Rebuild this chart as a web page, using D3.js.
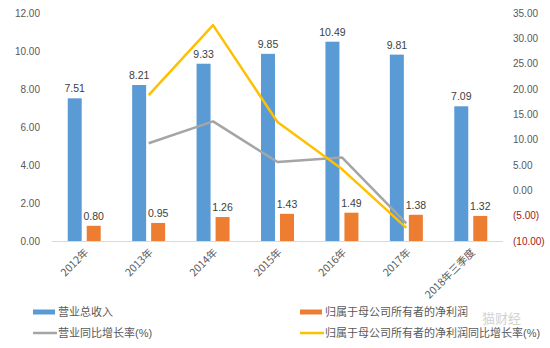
<!DOCTYPE html>
<html><head><meta charset="utf-8">
<script src="https://cdn.jsdelivr.net/npm/d3@7"></script>
<style>
body{margin:0;background:#fff;}
svg{display:block;}
text{font-family:"Liberation Sans","Noto Sans CJK SC",sans-serif;}
.cjk{font-family:"Noto Sans CJK SC",sans-serif;}
</style></head>
<body><svg id="c" width="550" height="348"></svg>
<script>
const categories = ["2012年","2013年","2014年","2015年","2016年","2017年","2018年三季度"];
const revenue = [7.51, 8.21, 9.33, 9.85, 10.49, 9.81, 7.09];
const netProfit = [0.80, 0.95, 1.26, 1.43, 1.49, 1.38, 1.32];
const revenueGrowth = [null, 9.3, 13.6, 5.6, 6.5, -6.5, null];
const profitGrowth = [null, 18.8, 32.6, 13.5, 4.2, -7.4, null];
const leftTicks = [0, 2, 4, 6, 8, 10, 12];
const rightTicks = [-10, -5, 0, 5, 10, 15, 20, 25, 30, 35];
const seriesNames = ["营业总收入", "归属于母公司所有者的净利润", "营业同比增长率(%)", "归属于母公司所有者的净利润同比增长率(%)"];

const svg = d3.select("#c");
const L = 52, R = 503, T = 13, B = 241;
const x = d3.scaleBand().domain(categories).range([L, R]).paddingInner(0).paddingOuter(0);
const yL = d3.scaleLinear().domain([0, 12]).range([B, T]);
const yR = d3.scaleLinear().domain([-10, 35]).range([B, T]);
const cx = c => x(c) + x.bandwidth() / 2;
const bw = 14, gap = 2.5;

// left axis labels
const la = d3.axisLeft(yL).tickValues(leftTicks).tickFormat(d3.format(".2f")).tickSize(0).tickPadding(0);
const gL = svg.append("g").attr("transform", `translate(40,0)`).call(la);
gL.select(".domain").remove();
gL.selectAll("text").attr("font-size", 10).attr("fill", "#595959").attr("font-family", "Liberation Sans");

const fmtR = v => v < 0 ? "(" + d3.format(".2f")(-v) + ")" : d3.format(".2f")(v);
const ra = d3.axisRight(yR).tickValues(rightTicks).tickFormat(fmtR).tickSize(0).tickPadding(0);
const gR = svg.append("g").attr("transform", `translate(513,0)`).call(ra);
gR.select(".domain").remove();
gR.selectAll("text").attr("font-size", 10).attr("font-family", "Liberation Sans")
  .attr("fill", d => d < 0 ? "#A01818" : "#595959");

// baseline
svg.append("line").attr("x1", L).attr("x2", R).attr("y1", B + 0.5).attr("y2", B + 0.5)
  .attr("stroke", "#D9D9D9").attr("stroke-width", 1);

// bars
svg.append("g").selectAll("rect").data(revenue).join("rect")
  .attr("x", (d, i) => cx(categories[i]) - gap - bw).attr("width", bw)
  .attr("y", d => yL(d)).attr("height", d => B - yL(d)).attr("fill", "#5B9BD5");
svg.append("g").selectAll("rect").data(netProfit).join("rect")
  .attr("x", (d, i) => cx(categories[i]) + gap).attr("width", bw)
  .attr("y", d => yL(d)).attr("height", d => B - yL(d)).attr("fill", "#ED7D31");

// bar labels
svg.append("g").selectAll("text").data(revenue).join("text")
  .attr("x", (d, i) => cx(categories[i]) - gap - bw / 2).attr("y", d => yL(d) - 6)
  .attr("text-anchor", "middle").attr("font-size", 10.5).attr("fill", "#404040").text(d => d.toFixed(2));
svg.append("g").selectAll("text").data(netProfit).join("text")
  .attr("x", (d, i) => cx(categories[i]) + gap + bw / 2).attr("y", d => yL(d) - 6)
  .attr("text-anchor", "middle").attr("font-size", 10.5).attr("fill", "#404040").text(d => d.toFixed(2));

// lines
const line = d3.line().defined(d => d.v !== null).x(d => cx(d.c)).y(d => yR(d.v));
svg.append("path").datum(categories.map((c, i) => ({c, v: revenueGrowth[i]})))
  .attr("d", line).attr("fill", "none").attr("stroke", "#A5A5A5").attr("stroke-width", 2.5).attr("stroke-linejoin", "round");
svg.append("path").datum(categories.map((c, i) => ({c, v: profitGrowth[i]})))
  .attr("d", line).attr("fill", "none").attr("stroke", "#FFC000").attr("stroke-width", 2.5).attr("stroke-linejoin", "round");

// x labels
svg.append("g").selectAll("text").data(categories).join("text")
  .attr("class", "cjk")
  .attr("transform", c => `translate(${cx(c) + 5},${B + 12}) rotate(-45)`)
  .attr("text-anchor", "end").attr("font-size", 10.5).attr("fill", "#595959").text(c => c);

// legend
const lg = svg.append("g").attr("class", "cjk");
const items = [
  {x: 33, y: 312, type: "bar", color: "#5B9BD5", name: seriesNames[0]},
  {x: 300, y: 312, type: "bar", color: "#ED7D31", name: seriesNames[1]},
  {x: 33, y: 333, type: "line", color: "#A5A5A5", name: seriesNames[2]},
  {x: 300, y: 333, type: "line", color: "#FFC000", name: seriesNames[3]}
];
items.forEach(it => {
  if (it.type === "bar") lg.append("rect").attr("x", it.x).attr("y", it.y - 2.5).attr("width", 22).attr("height", 5).attr("fill", it.color);
  else lg.append("line").attr("x1", it.x).attr("x2", it.x + 24).attr("y1", it.y).attr("y2", it.y).attr("stroke", it.color).attr("stroke-width", 2.5);
  lg.append("text").attr("x", it.x + 25).attr("y", it.y + 4).attr("font-size", 11).attr("fill", "#595959").text(it.name);
});
// watermark
svg.append("text").attr("class", "cjk").attr("x", 482).attr("y", 323).attr("font-size", 13)
  .attr("fill", "#c8c8c8").attr("opacity", 0.8).text("猫财经");
</script></body></html>
